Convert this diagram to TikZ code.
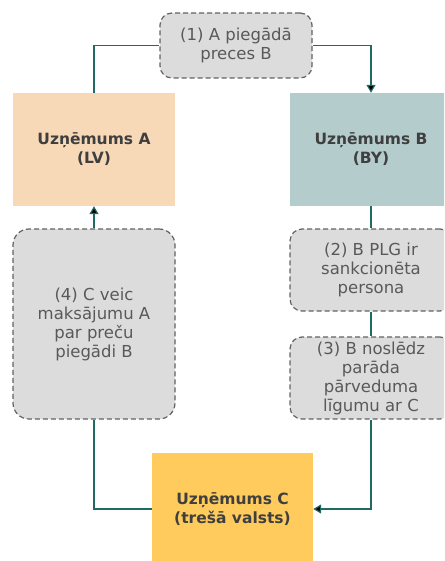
\documentclass[tikz,border=0pt]{standalone}
\usepackage{fontspec}
\setmainfont{DejaVu Sans}
\usetikzlibrary{arrows.meta}
\definecolor{linkteal}{HTML}{1F6B64}
\definecolor{peach}{HTML}{F7D9B7}
\definecolor{sage}{HTML}{B4CCCB}
\definecolor{gold}{HTML}{FFCB5C}
\definecolor{boxgray}{HTML}{DCDCDC}
\definecolor{dashgray}{HTML}{626262}
\definecolor{boxtext}{HTML}{595959}
\definecolor{firmtext}{HTML}{3F3F3F}
\tikzset{
	firm/.style={rectangle, minimum width=162pt, minimum height=113pt, align=center, text=firmtext, font=\bfseries\fontsize{15.5}{19}\selectfont},
	dbox/.style={rectangle, draw=dashgray, dash pattern=on 5pt off 3pt, line width=1.2pt, rounded corners=12pt, fill=boxgray, align=center, inner sep=2pt, text=boxtext, font=\fontsize{16.5}{19}\selectfont},
	link/.style={draw=linkteal, line width=1.2pt},
	tip/.style={-{Triangle[width=9pt,length=8pt]}}
}
\begin{document}
\begin{tikzpicture}[x=1pt,y=-1pt]
			\useasboundingbox (0,0) rectangle (444,561);
			\clip (0,0) rectangle (444,561);
			\node[firm, fill=peach] (firmA) at (94,149.5) {Uzņēmums A\\(LV)};
			\node[firm, fill=sage] (firmB) at (371,149.5) {Uzņēmums B\\(BY)};
			\node[firm, fill=gold, minimum width=161pt, minimum height=112pt] (firmC) at (232.5,509) {Uzņēmums C\\(trešā valsts)};
			\node[dbox, minimum width=152pt, minimum height=65pt] (step1) at (236,45.5) {(1) A piegādā\\preces B};
			\node[dbox, minimum width=162pt, minimum height=82pt] (step2) at (371,270) {(2) B PLG ir\\sankcionēta\\persona};
			\node[dbox, minimum width=162pt, minimum height=82pt] (step3) at (371,378) {(3) B noslēdz\\parāda\\pārveduma\\līgumu ar C};
			\node[dbox, minimum width=162pt, minimum height=190pt, rounded corners=16pt] (step4) at (94,324) {(4) C veic\\maksājumu A\\par preču\\piegādi B};
			\path[link]
			(firmA.north) edge[to path={|- (\tikztotarget)}] (step1.west)
			(step1.east) edge[tip, to path={-| (\tikztotarget)}] (firmB.north)
			(firmB.south) edge (step2.north)
			(step2.south) edge (step3.north)
			(step3.south) edge[tip, to path={|- (\tikztotarget)}] (firmC.east)
			(firmC.west) edge[to path={-| (\tikztotarget)}] (step4.south)
			(step4.north) edge[tip] (firmA.south);
		\end{tikzpicture}
\end{document}
